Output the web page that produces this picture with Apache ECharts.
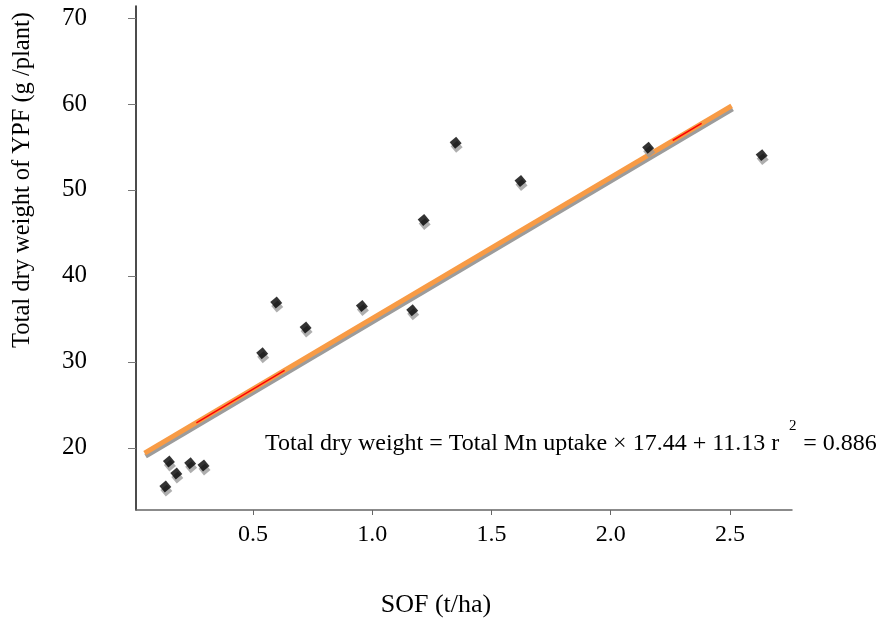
<!DOCTYPE html>
<html>
<head>
<meta charset="utf-8">
<script src="https://cdn.jsdelivr.net/npm/echarts@6/dist/echarts.min.js"></script>
<style>html,body{margin:0;padding:0;background:#fff;}#c{width:879px;height:625px;}</style>
</head>
<body>
<div id="c"></div>
<script>
const sofValues = [0.133, 0.148, 0.179, 0.237, 0.293, 0.539, 0.598, 0.721, 0.957, 1.168, 1.216, 1.350, 1.622, 2.157, 2.633];
const dryWeight = [15.5, 18.4, 17.0, 18.2, 17.95, 31.0, 36.9, 34.0, 36.5, 36.0, 46.5, 55.5, 51.05, 54.9, 54.05];
const fitX = [0.046, 2.507];
const fitY = [19.38, 59.79];
const redSegAX = [0.263, 0.633];
const redSegAY = [22.9, 29.0];
const redSegBX = [2.26, 2.381];
const redSegBY = [55.75, 57.75];
const xTicks = [0.5, 1.0, 1.5, 2.0, 2.5];
const yTicks = [20, 30, 40, 50, 60, 70];
const xName = 'SOF (t/ha)';
const yName = 'Total dry weight of YPF (g /plant)';
const eqText = 'Total dry weight = Total Mn uptake \u00d7 17.44 + 11.13 r    = 0.886';

const pairs = (xs, ys) => xs.map((x, i) => [x, ys[i]]);
const FONT = '"Liberation Serif", "Times New Roman", serif';

const chart = echarts.init(document.getElementById('c'), null, {renderer: 'canvas'});
chart.setOption({
  backgroundColor: '#fff',
  animation: false,
  grid: {left: 136, right: 87, top: 6, bottom: 115, outerBoundsMode: 'none', containLabel: false},
  xAxis: {
    type: 'value', min: 0.01, max: 2.76,
    name: xName, nameLocation: 'middle', nameGap: 82,
    nameTextStyle: {fontFamily: FONT, fontSize: 26, color: '#000', padding: [0, 56, 0, 0]},
    axisLine: {show: true, lineStyle: {color: '#666', width: 1.5}},
    axisTick: {show: true, customValues: xTicks, length: 5, lineStyle: {color: '#666'}},
    axisLabel: {customValues: xTicks, margin: 13, fontFamily: FONT, fontSize: 24, color: '#000',
      formatter: v => Number(v).toFixed(1)},
    splitLine: {show: false}
  },
  yAxis: {
    type: 'value', min: 12.76, max: 71.4,
    name: yName, nameLocation: 'middle', nameGap: 101, nameRotate: 90,
    nameTextStyle: {fontFamily: FONT, fontSize: 24.5, color: '#000', padding: [0, 0, 0, 156]},
    axisLine: {show: true, lineStyle: {color: '#111', width: 1.5}},
    axisTick: {show: true, customValues: yTicks, length: 8, lineStyle: {color: '#777'}},
    axisLabel: {customValues: yTicks, margin: 49, fontFamily: FONT, fontSize: 25, color: '#000'},
    splitLine: {show: false}
  },
  series: [
    {
      type: 'line', data: pairs(fitX, fitY), symbol: 'none', z: 2,
      lineStyle: {color: '#F89B45', width: 5, shadowColor: '#9c9c9c', shadowBlur: 0, shadowOffsetX: 1, shadowOffsetY: 3}
    },
    {
      type: 'line', data: pairs(redSegAX, redSegAY), symbol: 'none', z: 3,
      lineStyle: {color: '#ff0000', width: 1.5}
    },
    {
      type: 'line', data: pairs(redSegBX, redSegBY), symbol: 'none', z: 3,
      lineStyle: {color: '#ff0000', width: 1.5}
    },
    {
      type: 'scatter', data: pairs(sofValues, dryWeight), z: 4,
      symbol: 'rect', symbolSize: 8.5, symbolRotate: 40,
      itemStyle: {color: '#000', shadowColor: '#9a9a9a', shadowBlur: 0, shadowOffsetX: 1, shadowOffsetY: 4}
    }
  ],
  graphic: [
    {type: 'text', left: 265, top: 432, z: 10,
      style: {text: eqText, font: '24px ' + FONT, fill: '#000'}},
    {type: 'text', left: 789, top: 419, z: 10,
      style: {text: '2', font: '15px ' + FONT, fill: '#000'}}
  ]
});
</script>
</body>
</html>
